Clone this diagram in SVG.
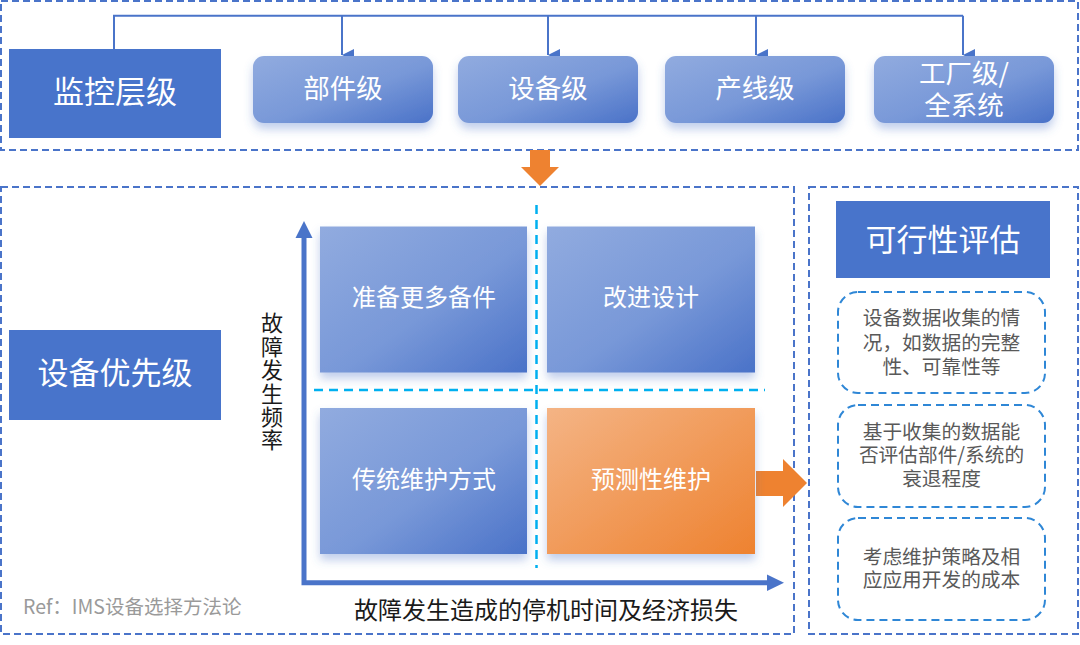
<svg xmlns="http://www.w3.org/2000/svg" width="1080" height="645" viewBox="0 0 1080 645">
<defs>
<linearGradient id="gb" x1="0" y1="0" x2="1" y2="1">
<stop offset="0" stop-color="#91abdf"/>
<stop offset="0.55" stop-color="#7898d8"/>
<stop offset="1" stop-color="#4a72c8"/>
</linearGradient>
<linearGradient id="go" x1="0" y1="0" x2="1" y2="1">
<stop offset="0" stop-color="#f4b485"/>
<stop offset="1" stop-color="#ee8230"/>
</linearGradient>
<filter id="sh" x="-20%" y="-20%" width="140%" height="150%">
<feDropShadow dx="0" dy="6" stdDeviation="5" flood-color="#4a72c8" flood-opacity="0.35"/>
</filter>
<marker id="ah" viewBox="0 0 12 12" refX="6" refY="12" markerWidth="12" markerHeight="12" markerUnits="userSpaceOnUse" orient="auto-start-reverse">
<path d="M0,0 L12,0 L6,12 Z" fill="#4a74c9"/>
</marker>
</defs>
<style>
.dash{fill:none;stroke:#4a74c9;stroke-width:2;stroke-dasharray:7 4}
.rdash{fill:#fff;stroke:#2f87d6;stroke-width:2;stroke-dasharray:8 5}
.cyan{fill:none;stroke:#00b0f0;stroke-width:2.5;stroke-dasharray:9 6}
.solid{fill:#4874cb}
.grad{fill:url(#gb)}
.wt{font-family:"Noto Sans CJK SC","Noto Sans",sans-serif;fill:#fff;text-anchor:middle}
.gt{font-family:"Noto Sans CJK SC","Noto Sans",sans-serif;fill:#595959;text-anchor:middle;font-size:19.7px}
.bt{font-family:"Noto Sans CJK SC","Noto Sans",sans-serif;fill:#1a1a1a;text-anchor:middle}
.conn{fill:none;stroke:#4a74c9;stroke-width:2}
</style>

<g id="frames">
<rect class="dash" x="1" y="1" width="1077" height="149"/>
<rect class="dash" x="1" y="187" width="793" height="447"/>
<rect class="dash" x="809" y="187" width="269" height="447"/>
</g>

<g id="connectors">
<polyline class="conn" points="114,49 114,15.7 963,15.7"/>
<line class="conn" x1="342" y1="15.7" x2="342" y2="55" marker-end="url(#ah)"/>
<line class="conn" x1="548" y1="15.7" x2="548" y2="55" marker-end="url(#ah)"/>
<line class="conn" x1="756" y1="15.7" x2="756" y2="55" marker-end="url(#ah)"/>
<line class="conn" x1="963" y1="15.7" x2="963" y2="55" marker-end="url(#ah)"/>
<polygon id="down-arrow" points="530,150 550,150 550,167 559,167 540,186 521,167 530,167" fill="#ee8230"/>
<polygon id="right-arrow" points="756,471 783,471 783,459 807,483 783,507 783,496 756,496" fill="#ee8230"/>
<polyline fill="none" stroke="#4a74c9" stroke-width="5" points="304,236 304,582.7 768,582.7"/>
<polygon points="304,221 295.5,238 312.5,238" fill="#4a74c9"/>
<polygon points="784,582.7 767,574.5 767,591" fill="#4a74c9"/>
<line class="cyan" x1="314" y1="390" x2="765" y2="390"/>
<line class="cyan" x1="536.5" y1="205" x2="536.5" y2="568"/>
</g>

<g id="n-monitor">
<rect class="solid" x="9" y="49" width="212" height="89"/>
<text class="wt" x="115" y="102.5" font-size="31">监控层级</text>
</g>
<g id="n-part">
<rect class="grad" x="253" y="56" width="180" height="67" rx="11" filter="url(#sh)"/>
<text class="wt" x="343" y="97.5" font-size="26.5">部件级</text>
</g>
<g id="n-device">
<rect class="grad" x="458" y="56" width="180" height="67" rx="11" filter="url(#sh)"/>
<text class="wt" x="548" y="97.5" font-size="26.5">设备级</text>
</g>
<g id="n-line">
<rect class="grad" x="665" y="56" width="180" height="67" rx="11" filter="url(#sh)"/>
<text class="wt" x="755" y="97.5" font-size="26.5">产线级</text>
</g>
<g id="n-factory">
<rect class="grad" x="874" y="56" width="180" height="67" rx="11" filter="url(#sh)"/>
<text class="wt" x="964" y="83.3" font-size="26.5">工厂级/</text>
<text class="wt" x="964" y="115.3" font-size="26.5">全系统</text>
</g>

<g id="n-priority">
<rect class="solid" x="9" y="330" width="212" height="90"/>
<text class="wt" x="115" y="384" font-size="31">设备优先级</text>
</g>

<g id="n-spares">
<rect class="grad" x="320" y="226.5" width="207" height="146" filter="url(#sh)"/>
<text class="wt" x="424" y="306.4" font-size="24">准备更多备件</text>
</g>
<g id="n-design">
<rect class="grad" x="547" y="226.5" width="208" height="146" filter="url(#sh)"/>
<text class="wt" x="651" y="306.4" font-size="24">改进设计</text>
</g>
<g id="n-traditional">
<rect class="grad" x="320" y="408" width="207" height="146" filter="url(#sh)"/>
<text class="wt" x="424" y="488.4" font-size="24">传统维护方式</text>
</g>
<g id="n-predictive">
<rect x="547" y="408" width="208" height="146" fill="url(#go)" filter="url(#sh)"/>
<text class="wt" x="651" y="488.4" font-size="24">预测性维护</text>
</g>

<g id="axis-labels">
<text x="272" y="312" font-size="22" writing-mode="vertical-rl" letter-spacing="1.4" font-family="Noto Sans CJK SC, Noto Sans, sans-serif" fill="#1a1a1a">故障发生频率</text>
<text class="bt" x="546" y="618.5" font-size="24">故障发生造成的停机时间及经济损失</text>
<text x="23" y="613.5" font-size="19.5" font-family="Noto Sans CJK SC, Noto Sans, sans-serif" fill="#9a9a9a">Ref：IMS设备选择方法论</text>
</g>

<g id="n-feasibility">
<rect class="solid" x="836" y="201" width="214" height="77"/>
<text class="wt" x="943" y="251" font-size="31">可行性评估</text>
</g>
<g id="n-f1">
<rect class="rdash" x="838" y="292" width="207" height="101" rx="20"/>
<text class="gt" x="941.5" y="325">设备数据收集的情</text>
<text class="gt" x="941.5" y="350">况，如数据的完整</text>
<text class="gt" x="941.5" y="374">性、可靠性等</text>
</g>
<g id="n-f2">
<rect class="rdash" x="838" y="405" width="207" height="102" rx="20"/>
<text class="gt" x="941.5" y="439">基于收集的数据能</text>
<text class="gt" x="941.5" y="462">否评估部件/系统的</text>
<text class="gt" x="941.5" y="486">衰退程度</text>
</g>
<g id="n-f3">
<rect class="rdash" x="838" y="518" width="207" height="102" rx="20"/>
<text class="gt" x="941.5" y="564">考虑维护策略及相</text>
<text class="gt" x="941.5" y="587">应应用开发的成本</text>
</g>
</svg>
